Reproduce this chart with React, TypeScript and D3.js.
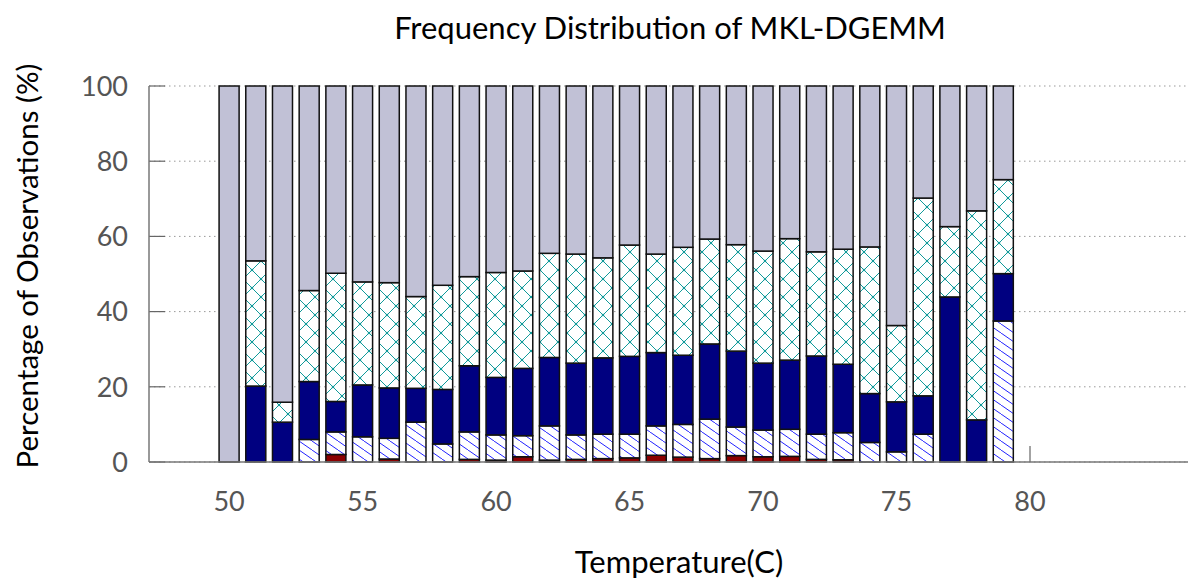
import React from "react";
import * as d3 from "d3";

// Temperature bins (C)
const temps = d3.range(50, 80);

// Share of observations per frequency band, bottom to top of each bar (%)
const bandLowest = [0, 0, 0, 0, 2.0, 0, 0.8, 0, 0, 0.7, 0.5, 1.4, 0.5, 0.7, 0.9, 1.1, 1.8, 1.3, 0.9, 1.7, 1.4, 1.5, 0.7, 0.6, 0, 0, 0, 0, 0, 0];
const bandLow = [0, 0, 0, 6.0, 6.0, 6.7, 5.5, 10.6, 4.8, 7.3, 6.7, 5.6, 9.1, 6.5, 6.5, 6.3, 7.8, 8.7, 10.5, 7.6, 7.1, 7.2, 6.7, 7.2, 5.2, 2.7, 7.4, 0, 0, 37.5];
const bandMid = [0, 20.2, 10.6, 15.4, 8.1, 13.8, 13.4, 9.0, 14.5, 17.6, 15.3, 17.9, 18.2, 19.1, 20.3, 20.7, 19.5, 18.4, 20.0, 20.2, 17.8, 18.4, 20.8, 18.2, 13.0, 13.3, 10.2, 43.9, 11.2, 12.6];
const bandHigh = [0, 33.3, 5.3, 24.2, 34.1, 27.4, 28.0, 24.4, 27.7, 23.7, 27.9, 25.9, 27.7, 29.0, 26.6, 29.6, 26.2, 28.7, 27.9, 28.3, 29.8, 32.3, 27.7, 30.6, 39.0, 20.3, 52.6, 18.7, 55.6, 25.0];
const bandTop = temps.map((_, i) => +(100 - bandLowest[i] - bandLow[i] - bandMid[i] - bandHigh[i]).toFixed(1));

const yTicks = [0, 20, 40, 60, 80, 100];
const xTicks = [50, 55, 60, 65, 70, 75, 80];

const keys = ["lowest", "low", "mid", "high", "top"];
const fills: Record<string, string> = {
  lowest: "#8b0000",
  low: "url(#hatchBlue)",
  mid: "#000080",
  high: "url(#crossTeal)",
  top: "#c1c1d6",
};

const rows = temps.map((t, i) => ({
  t,
  lowest: bandLowest[i],
  low: bandLow[i],
  mid: bandMid[i],
  high: bandHigh[i],
  top: bandTop[i],
}));

export default function App() {
  const width = 1188;
  const height = 582;
  const left = 149;
  const bottom = 462;
  const font = "Lato, 'Open Sans', sans-serif";

  const x = d3.scaleLinear().domain([47, 80]).range([left, 1030]);
  const y = d3.scaleLinear().domain([0, 100]).range([bottom, 86]);
  const barW = (x(51) - x(50)) * 0.75;

  const stacked = d3.stack<any>().keys(keys)(rows);

  return (
    <div>
      <style>{`body{margin:0}`}</style>
      <svg width={width} height={height} style={{ display: "block" }}>
        <defs>
          <pattern id="hatchBlue" patternUnits="userSpaceOnUse" width="13" height="9">
            <rect width="13" height="9" fill="#fff" />
            <path d="M0,0 L13,9 M-13,0 L0,9 M13,0 L26,9" stroke="#2222ff" strokeWidth="1" />
          </pattern>
          <pattern id="crossTeal" patternUnits="userSpaceOnUse" width="18" height="18">
            <rect width="18" height="18" fill="#fff" />
            <path d="M0,0 L18,18 M18,0 L0,18" stroke="#109a9a" strokeWidth="1" />
            <circle cx="9" cy="9" r="1.3" fill="#109a9a" />
            <circle cx="0" cy="0" r="1.3" fill="#109a9a" />
            <circle cx="18" cy="0" r="1.3" fill="#109a9a" />
            <circle cx="0" cy="18" r="1.3" fill="#109a9a" />
            <circle cx="18" cy="18" r="1.3" fill="#109a9a" />
          </pattern>
        </defs>

        {/* grid */}
        {yTicks.map((v) => (
          <line key={v} x1={left} x2={width} y1={y(v)} y2={y(v)} stroke="#999" strokeWidth="1" strokeDasharray="1.5,3.5" />
        ))}

        {/* tick marks */}
        {yTicks.map((v) => (
          <line key={"yt" + v} x1={left} x2={left + 16} y1={y(v)} y2={y(v)} stroke="#666" strokeWidth="1.2" />
        ))}
        {xTicks.map((v) => (
          <line key={"xt" + v} x1={x(v)} x2={x(v)} y1={bottom} y2={bottom - 16} stroke="#666" strokeWidth="1.2" />
        ))}

        {/* bars */}
        {stacked.map((series) => (
          <g key={series.key}>
            {series.map((d, i) =>
              d[1] - d[0] > 0 ? (
                <rect
                  key={i}
                  x={x(d.data.t) - barW / 2}
                  y={y(d[1])}
                  width={barW}
                  height={y(d[0]) - y(d[1])}
                  fill={fills[series.key]}
                  stroke="#111"
                  strokeWidth="1.5"
                />
              ) : null
            )}
          </g>
        ))}

        {/* axes */}
        <line x1={left} x2={left} y1={y(100)} y2={bottom} stroke="#777" strokeWidth="1.5" />
        <line x1={left} x2={width} y1={bottom} y2={bottom} stroke="#777" strokeWidth="1.5" />

        {/* tick labels */}
        {yTicks.map((v) => (
          <text key={"yl" + v} x={128} y={y(v)} dy="0.36em" textAnchor="end" fontFamily={font} fontSize="27" fill="#555">
            {v}
          </text>
        ))}
        {xTicks.map((v) => (
          <text key={"xl" + v} x={x(v)} y={511} textAnchor="middle" fontFamily={font} fontSize="27" fill="#555">
            {v}
          </text>
        ))}

        {/* titles */}
        <text x={670} y={39} textAnchor="middle" fontFamily={font} fontSize="31" fill="#000">
          Frequency Distribution of MKL-DGEMM
        </text>
        <text x={679} y={573} textAnchor="middle" fontFamily={font} fontSize="31" fill="#000">
          Temperature(C)
        </text>
        <text
          transform={`translate(38,266) rotate(-90)`}
          textAnchor="middle"
          fontFamily={font}
          fontSize="29.5"
          fill="#000"
        >
          Percentage of Observations (%)
        </text>
      </svg>
    </div>
  );
}
